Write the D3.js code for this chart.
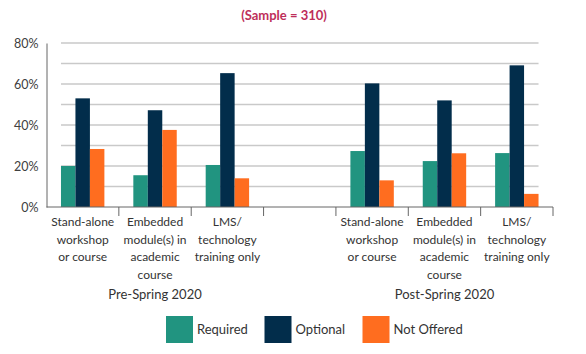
<!DOCTYPE html>
<meta charset="utf-8">
<script src="https://d3js.org/d3.v7.min.js"></script>
<style>
  body { margin: 0; background: #fff; }
  text { font-family: Lato, "Noto Sans", sans-serif; fill: #333; }
</style>
<div id="chart"></div>
<script>
// Data
var categories = ["sa1", "em1", "lms1", "gap", "sa2", "em2", "lms2"];
var catLabels = {
  sa1: ["Stand-alone", "workshop", "or course"],
  em1: ["Embedded", "module(s) in", "academic", "course"],
  lms1: ["LMS/", "technology", "training only"],
  gap: [],
  sa2: ["Stand-alone", "workshop", "or course"],
  em2: ["Embedded", "module(s) in", "academic", "course"],
  lms2: ["LMS/", "technology", "training only"]
};
var series = ["Required", "Optional", "Not Offered"];
var colors = ["#219480", "#022d4b", "#ff6d1f"];
var required   = [20, 15.5, 20.5, null, 27.3, 22.4, 26.3];
var optional   = [53, 47.2, 65.3, null, 60.3, 52, 69.1];
var notOffered = [28.3, 37.6, 14, null, 13, 26.2, 6.4];
var groups = [
  {label: "Pre-Spring 2020", from: "sa1", to: "lms1"},
  {label: "Post-Spring 2020", from: "sa2", to: "lms2"}
];
var yTicks = [0, 20, 40, 60, 80];

var W = 586, H = 354;
var svg = d3.select("#chart").append("svg")
  .attr("width", W).attr("height", H);

var x = d3.scaleBand().domain(categories).range([46.5, 553]).paddingInner(0);
var bw = x.bandwidth() / 5;
var xs = d3.scaleBand().domain(series).range([bw, bw * 4]);
var y = d3.scaleLinear().domain([0, 80]).range([207, 43]);

// Title
svg.append("text")
  .attr("x", 284).attr("y", 20)
  .attr("text-anchor", "middle")
  .style("font-weight", "bold").style("font-size", "13px")
  .style("fill", "#be2e5a")
  .text("(Sample = 310)");

// Gridlines, every 10%
var gx0 = x(categories[0]) + bw, gx1 = x(categories[categories.length - 1]) + bw * 4;
svg.append("g").selectAll("line")
  .data(d3.range(10, 81, 10))
  .join("line")
    .attr("x1", gx0).attr("x2", gx1)
    .attr("y1", d => y(d)).attr("y2", d => y(d))
    .attr("stroke", "#c9c9c9").attr("stroke-width", 1.5);

// Bars
var rows = categories.map((c, i) => ({
  cat: c,
  vals: [required[i], optional[i], notOffered[i]]
})).filter(d => d.vals[0] != null);

svg.append("g").selectAll("g")
  .data(rows)
  .join("g")
    .attr("transform", d => "translate(" + x(d.cat) + ",0)")
  .selectAll("rect")
  .data(d => d.vals.map((v, j) => ({s: series[j], v: v, c: colors[j]})))
  .join("rect")
    .attr("x", d => xs(d.s))
    .attr("width", xs.bandwidth())
    .attr("y", d => y(d.v))
    .attr("height", d => y(0) - y(d.v))
    .attr("fill", d => d.c);

// Y axis
var yAxis = svg.append("g")
  .attr("transform", "translate(46.5,0)")
  .call(d3.axisLeft(y).tickValues(yTicks).tickSize(0).tickPadding(8).tickFormat(d => d + "%"));
yAxis.select(".domain").attr("stroke", "#666");
yAxis.selectAll("text").style("font-size", "12.5px").style("fill", "#404040")
  .style("font-family", "Lato, sans-serif");

// X axis with divider ticks
var xAxis = svg.append("g").attr("transform", "translate(0,207)");
xAxis.append("line")
  .attr("x1", 46.5).attr("x2", 553)
  .attr("stroke", "#666").attr("stroke-width", 1);
xAxis.selectAll(".div")
  .data(categories.slice(1).concat(["end"]))
  .join("line")
    .attr("x1", d => d === "end" ? 553 : x(d))
    .attr("x2", d => d === "end" ? 553 : x(d))
    .attr("y1", 0).attr("y2", 9)
    .attr("stroke", "#666");

// Category labels
svg.append("g").selectAll("text")
  .data(categories)
  .join("text")
    .attr("text-anchor", "middle")
    .attr("transform", d => "translate(" + (x(d) + x.bandwidth() / 2) + ",226)")
    .style("font-size", "12px")
    .selectAll("tspan")
    .data(d => catLabels[d])
    .join("tspan")
      .attr("x", 0).attr("dy", (d, i) => i === 0 ? 0 : 17.5)
      .text(d => d);

// Group labels
svg.append("g").selectAll("text")
  .data(groups)
  .join("text")
    .attr("x", d => (x(d.from) + x(d.to) + x.bandwidth()) / 2)
    .attr("y", 299)
    .attr("text-anchor", "middle")
    .style("font-size", "13px")
    .text(d => d.label);

// Legend
var legX = [166, 264.5, 362.5];
var leg = svg.append("g").selectAll("g")
  .data(series)
  .join("g")
    .attr("transform", (d, i) => "translate(" + legX[i] + ",316)");
leg.append("rect")
  .attr("width", 27).attr("height", 27)
  .attr("fill", (d, i) => colors[i]);
leg.append("text")
  .attr("x", 31).attr("y", 18)
  .style("font-size", "13px")
  .text(d => d);
</script>
